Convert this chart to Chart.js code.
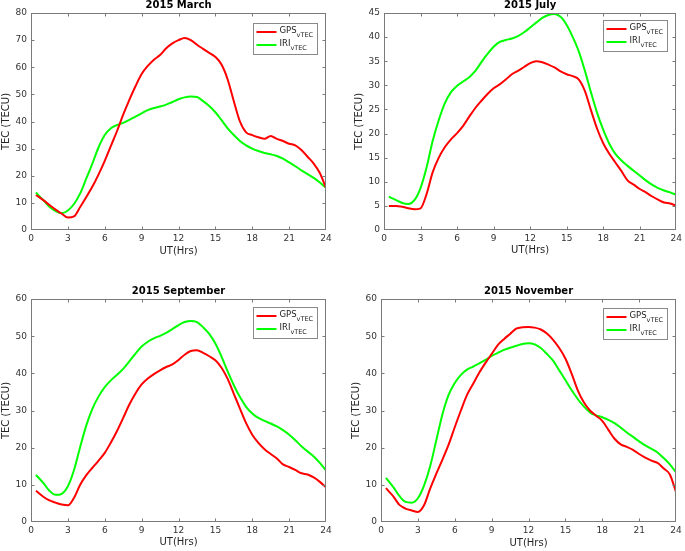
<!DOCTYPE html>
<html><head><meta charset="utf-8">
<script src="https://cdn.jsdelivr.net/npm/chart.js@4/dist/chart.umd.min.js"></script>
<style>
html,body{margin:0;padding:0;background:#fff;width:685px;height:551px;overflow:hidden}
canvas{position:absolute;display:block}
</style></head><body>
<canvas id="c1" width="342" height="275" style="left:0;top:0"></canvas>
<canvas id="c2" width="343" height="275" style="left:342px;top:0"></canvas>
<canvas id="c3" width="342" height="271" style="left:0;top:280px"></canvas>
<canvas id="c4" width="343" height="271" style="left:342px;top:280px"></canvas>
<script>
// ---- data ----
const hours = [0.4,1,1.5,2,2.5,3,3.5,4,4.5,5,5.5,6,6.5,7,7.5,8,8.5,9,9.5,10,10.5,11,11.5,12,12.5,13,13.5,14,14.5,15,15.5,16,16.5,17,17.5,18,18.5,19,19.5,20,20.5,21,21.5,22,22.5,23,23.5,24];
const xTicks = [0,3,6,9,12,15,18,21,24];
const seriesMain = ["GPS","IRI"];
const seriesSub = ["vTEC","vTEC"];
const panelTitles = ["2015 March","2015 July","2015 September","2015 November"];
const xAxisTitle = "UT(Hrs)";
const yAxisTitle = "TEC (TECU)";

const marchGPS = [12.9,11,9.2,7.5,6,4.6,5.0,8.5,12.2,16,20.5,25.5,31,36.5,42.5,48,53,57.5,60.5,62.8,64.5,67,68.8,70,70.8,70,68.3,66.8,65.3,63.8,61,55.5,47.5,40,36,35,34.2,33.6,34.7,33.6,32.8,31.8,31.2,29.5,27,24.5,21,15.5];
const marchIRI = [13.8,11,8.6,7,6.2,7.2,9.6,13.5,19,24.6,30.5,35,37.5,38.7,39.5,40.6,41.8,43,44.2,45,45.5,46.2,47.2,48.2,48.9,49.2,49,47.5,45.7,43.4,40.5,37.5,35,32.8,31.2,30,29.1,28.4,27.9,27.3,26.3,24.9,23.5,22,20.6,19.2,17.5,15.5];
const julyGPS = [5.0,5.0,4.8,4.5,4.3,4.5,7.5,12,15,17.2,18.8,20.1,21.6,23.5,25.3,26.8,28.2,29.4,30.2,31.2,32.3,33,33.8,34.6,35,34.8,34.3,33.7,32.9,32.3,31.9,31.2,28.8,24.8,21,18,15.8,14,12.2,10.3,9.4,8.5,7.8,7,6.3,5.7,5.5,5.0];
const julyIRI = [6.9,6.2,5.6,5.4,6.2,8.7,13,18.5,22.8,26.3,28.6,29.9,30.8,31.7,33,34.8,36.5,38,39,39.4,39.7,40.2,41,42,43,44,44.6,44.8,44.2,42.5,40,37,33,28.5,24.3,20.8,17.9,15.8,14.4,13.3,12.3,11.3,10.3,9.4,8.7,8.2,7.8,7.3];
const septGPS = [8.4,6.8,5.8,5.2,4.7,4.5,6.5,10,12.6,14.6,16.5,18.6,21.4,24.5,28,31.6,34.6,37,38.6,39.8,40.8,41.7,42.4,43.6,45,46,46.2,45.5,44.6,43.5,41.5,38.5,34.5,30.5,26.6,23.5,21.3,19.6,18.3,17.1,15.5,14.8,14,13.1,12.8,12,10.8,9.3];
const septIRI = [12.7,10.5,8.4,7.3,7.6,9.6,14,20.2,26,30.5,33.8,36.3,38.1,39.6,41.2,43.2,45.3,47.2,48.5,49.4,50.1,50.9,51.9,53,53.8,54.1,53.8,52.4,50.6,48,44.5,40.5,36.8,33.6,31,29.2,28,27.2,26.5,25.7,24.7,23.5,22,20.4,19,17.6,15.9,13.9];
const novGPS = [9.1,6.9,4.6,3.6,3.1,2.7,4.5,9,13,16.8,20.8,25.5,30,34.2,37.2,40.2,42.8,45.2,47.6,49.2,50.6,52,52.4,52.5,52.3,51.8,50.7,49,46.8,44,40,35.5,32.2,30,28.6,27.2,24.8,22.4,20.9,20.2,19.4,18.3,17.3,16.5,15.9,14.4,12.8,8.1];
const novIRI = [11.9,9.4,7,5.4,5.2,6.4,9.8,15,22,29,34.2,37.4,39.6,41,41.8,42.7,43.6,44.7,45.5,46.3,46.9,47.4,47.9,48.1,47.8,46.8,45.2,43.4,40.8,38.2,35.5,33.1,31.1,29.5,28.7,28.2,27.5,26.6,25.4,24.1,22.9,21.7,20.6,19.7,18.7,17.2,15.5,13.4];

const yMax = [80,45,60,60];
const yStep = [10,5,10,10];

// ---- layout (positions/styles) ----
const layouts = [
  {id:'c1', w:342, h:275, left:31, right:326, top:13, bottom:230, yTitlePad:1, xTitlePad:18.5, legTop:10},
  {id:'c2', w:343, h:275, left:42, right:336, top:13, bottom:230, yTitlePad:12.5, xTitlePad:19.5, legTop:7},
  {id:'c3', w:342, h:271, left:31, right:326, top:19, bottom:242, yTitlePad:1, xTitlePad:3.5, legTop:8},
  {id:'c4', w:343, h:271, left:39, right:334, top:19, bottom:242, yTitlePad:9, xTitlePad:2.5, legTop:9}
];
const FONT = "'DejaVu Sans', sans-serif";

const framePlugin = {
  id: 'frame',
  afterDatasetsDraw(chart) {
    const {ctx, chartArea: a, scales} = chart;
    ctx.save();
    ctx.strokeStyle = '#7a7a7a';
    ctx.lineWidth = 1;
    const L = Math.round(a.left)+0.5, R = Math.round(a.right)-0.5, T = Math.round(a.top)+0.5, B = Math.round(a.bottom)-0.5;
    ctx.strokeRect(L, T, R-L, B-T);
    ctx.beginPath();
    scales.x.ticks.forEach(t => {
      const px = Math.round(scales.x.getPixelForValue(t.value)) + 0.5;
      if (px <= L+1 || px >= R-1) return;
      ctx.moveTo(px, B); ctx.lineTo(px, B-3);
      ctx.moveTo(px, T); ctx.lineTo(px, T+3);
    });
    scales.y.ticks.forEach(t => {
      const py = Math.round(scales.y.getPixelForValue(t.value)) + 0.5;
      if (py <= T+1 || py >= B-1) return;
      ctx.moveTo(L, py); ctx.lineTo(L+3, py);
      ctx.moveTo(R, py); ctx.lineTo(R-3, py);
    });
    ctx.stroke();
    ctx.restore();
  }
};

const titlePlugin = {
  id: 'ptitle',
  afterDraw(chart, args, opts) {
    const {ctx, chartArea: a} = chart;
    ctx.save();
    ctx.font = "bold 10px " + FONT;
    ctx.fillStyle = '#000';
    ctx.textAlign = 'center';
    ctx.textBaseline = 'middle';
    ctx.fillText(opts.text, (a.left + a.right)/2, a.top - 7.5);
    ctx.restore();
  }
};

const legendPlugin = {
  id: 'sublegend',
  afterDraw(chart, args, opts) {
    const {ctx, chartArea: a} = chart;
    const bw = 64, bh = 31;
    const bx = Math.round(a.right - 9 - bw) + 0.5, by = Math.round(a.top + opts.top) + 0.5;
    ctx.save();
    ctx.fillStyle = '#fff';
    ctx.fillRect(bx, by, bw, bh);
    ctx.strokeStyle = '#8a8a8a';
    ctx.lineWidth = 1;
    ctx.strokeRect(bx, by, bw, bh);
    chart.data.datasets.forEach((ds, i) => {
      const y = by + 8.5 + i * 13;
      ctx.strokeStyle = ds.borderColor;
      ctx.lineWidth = 2;
      ctx.beginPath();
      ctx.moveTo(bx + 3, y); ctx.lineTo(bx + 23, y);
      ctx.stroke();
      ctx.fillStyle = '#222';
      ctx.textAlign = 'left';
      ctx.textBaseline = 'middle';
      ctx.font = "8.5px " + FONT;
      ctx.fillText(seriesMain[i], bx + 26, y - 1);
      const w = ctx.measureText(seriesMain[i]).width;
      ctx.font = "6.5px " + FONT;
      ctx.fillText(seriesSub[i], bx + 26 + w, y + 3);
    });
    ctx.restore();
  }
};

function buildChart(k, gps, iri) {
  const L = layouts[k];
  const mk = vals => hours.map((h, i) => ({x: h, y: vals[i]}));
  return new Chart(document.getElementById(L.id), {
    type: 'line',
    data: {
      datasets: [
        {label: seriesMain[0] + seriesSub[0], data: mk(gps), borderColor: '#ff0000', borderWidth: 2, pointRadius: 0, cubicInterpolationMode: 'monotone', fill: false},
        {label: seriesMain[1] + seriesSub[1], data: mk(iri), borderColor: '#00ff00', borderWidth: 2, pointRadius: 0, cubicInterpolationMode: 'monotone', fill: false}
      ]
    },
    options: {
      responsive: false,
      animation: false,
      events: [],
      layout: {padding: {left: 0, right: L.w - L.right, top: L.top, bottom: 0}},
      plugins: {
        legend: {display: false},
        title: {display: false},
        tooltip: {enabled: false},
        ptitle: {text: panelTitles[k]},
        sublegend: {top: L.legTop}
      },
      scales: {
        x: {
          type: 'linear', min: 0, max: 24,
          afterBuildTicks: s => { s.ticks = xTicks.map(v => ({value: v})); },
          ticks: {color: '#333', font: {family: FONT, size: 9}, padding: 3, maxRotation: 0},
          grid: {drawOnChartArea: false, drawTicks: false},
          border: {display: false},
          title: {display: true, text: xAxisTitle, color: '#262626', font: {family: FONT, size: 10, lineHeight: 1}, padding: {top: 0, bottom: L.xTitlePad}},
          afterFit: s => { s.height = L.h - L.bottom; }
        },
        y: {
          type: 'linear', min: 0, max: yMax[k],
          ticks: {stepSize: yStep[k], color: '#333', font: {family: FONT, size: 9}, padding: 4},
          grid: {drawOnChartArea: false, drawTicks: false},
          border: {display: false},
          title: {display: true, text: yAxisTitle, color: '#262626', font: {family: FONT, size: 10, lineHeight: 1}, padding: {top: L.yTitlePad, bottom: 0}},
          afterFit: s => { s.width = L.left; }
        }
      }
    },
    plugins: [framePlugin, titlePlugin, legendPlugin]
  });
}

buildChart(0, marchGPS, marchIRI);
buildChart(1, julyGPS, julyIRI);
buildChart(2, septGPS, septIRI);
buildChart(3, novGPS, novIRI);
</script>
</body></html>
